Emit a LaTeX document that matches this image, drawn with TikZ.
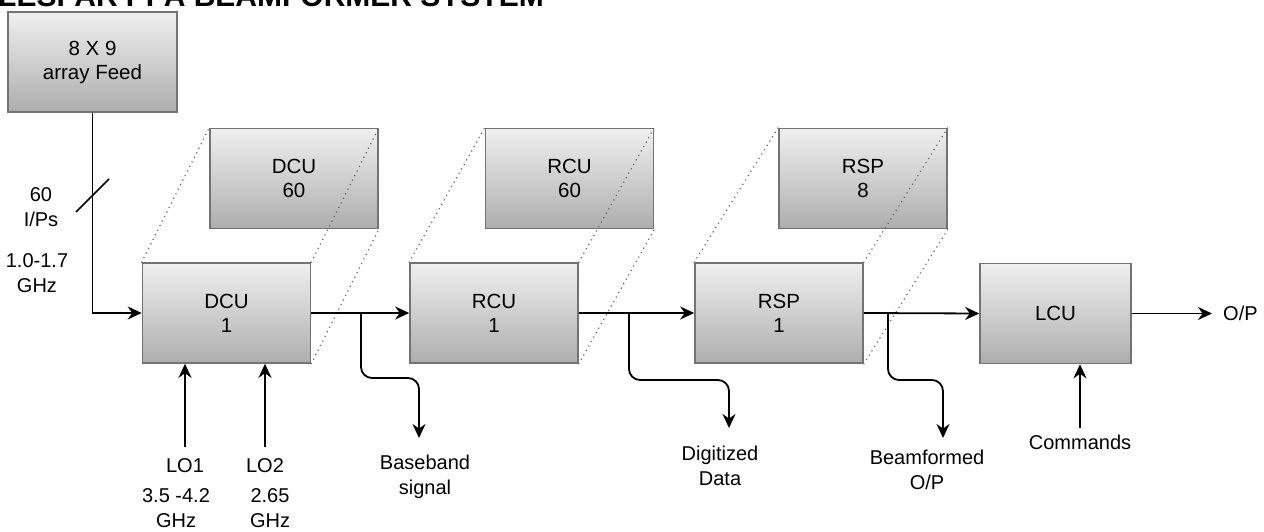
\documentclass[tikz,border=0pt]{standalone}
\usepackage{fontspec}
\setmainfont{Liberation Sans}
\usetikzlibrary{arrows.meta}

\begin{document}
\begin{tikzpicture}[x=1pt,y=-1pt,
	box/.style={draw=black!55, line width=1.6pt, top color=black!6, bottom color=black!32, minimum width=168pt, minimum height=100pt, align=center, font=\fontsize{20.5}{24}\selectfont},
	lbl/.style={anchor=north, inner sep=0pt, align=center, font=\fontsize{20}{25}\selectfont},
	sig/.style={line width=1.8pt, ->, >={Stealth[length=14pt,width=13pt,inset=4.5pt]}},
	ghost/.style={draw=black!60, line width=1.6pt, line cap=round, dash pattern=on 0.1pt off 5pt}]
	\clip (0,0) rectangle (1264,532);
	\node[anchor=base west, inner sep=0pt, font=\bfseries\fontsize{30}{30}\selectfont] (title) at (-2,7) {LESPAR PPA BEAMFORMER SYSTEM};

	% back row
	\node[box] (dcub) at (294,178.5) {DCU\\60};
	\node[box] (rcub) at (569.5,178.5) {RCU\\60};
	\node[box] (rspb) at (863,178.5) {RSP\\8};
	% front row
	\node[box, minimum width=169pt] (feed) at (92.5,62) {8 X 9\\array Feed};
	\node[box] (dcu) at (226.5,313) {DCU\\1};
	\node[box] (rcu) at (494,313) {RCU\\1};
	\node[box] (rsp) at (779,313) {RSP\\1};
	\node[box, minimum width=151pt] (lcu) at (1055.5,313.5) {LCU};

	\foreach \a/\b in {dcu/dcub, rcu/rcub, rsp/rspb}{
		\draw[ghost] (\a.north west) -- (\b.north west);
		\draw[ghost] (\a.north east) -- (\b.north east);
		\draw[ghost] (\a.south east) -- (\b.south east);
	}

	% input
	\node[lbl] (ips) at (41,187) {60\\I/Ps};
	\node[lbl] (band) at (37,253) {1.0-1.7\\GHz};
	\draw[sig] (feed.south) |- (dcu.west);
	\draw[line width=1.6pt] (76,212) -- (109,179);

	% chain
	\node[lbl, anchor=west] (op) at (1223,313.5) {O/P};
	\draw[sig] (dcu.east) -- (rcu.west);
	\draw[sig] (rcu.east) -- (rsp.west);
	\draw[sig] (rsp.east) -- (lcu.west);
	\draw[sig] (lcu.east) -- ([xshift=-11pt]op.west);

	% taps
	\coordinate (tap1) at (361,313);
	\coordinate (tap2) at (629,313);
	\coordinate (tap3) at (888,313);
	\coordinate (bbend) at (419,438);
	\coordinate (dgend) at (729,428);
	\coordinate (bfend) at (943,438);
	\node[lbl] (bb) at (425,455) {Baseband\\signal};
	\node[lbl] (dg) at (720,446) {Digitized\\Data};
	\node[lbl] (bf) at (927,450) {Beamformed\\O/P};
	\draw[sig, rounded corners=11pt] (tap1) -- ++(0,65) -| (bbend);
	\draw[sig, rounded corners=11pt] (tap2) -- ++(0,67) -| (dgend);
	\draw[sig, rounded corners=11pt] (tap3) -- ++(0,67) -| (bfend);

	% local oscillators and commands
	\node[lbl] (lo1) at (185,458) {LO1};
	\node[lbl] (lo1f) at (176,488) {3.5 -4.2\\GHz};
	\node[lbl] (lo2) at (265,458) {LO2};
	\node[lbl] (lo2f) at (270,488) {2.65\\GHz};
	\node[lbl] (cmd) at (1080,435) {Commands};
	\draw[sig] ([yshift=11pt]lo1.north) -- (lo1.north |- dcu.south);
	\draw[sig] ([yshift=11pt]lo2.north) -- (lo2.north |- dcu.south);
	\draw[sig] ([yshift=7pt]cmd.north) -- (cmd.north |- lcu.south);
\end{tikzpicture}
\end{document}
